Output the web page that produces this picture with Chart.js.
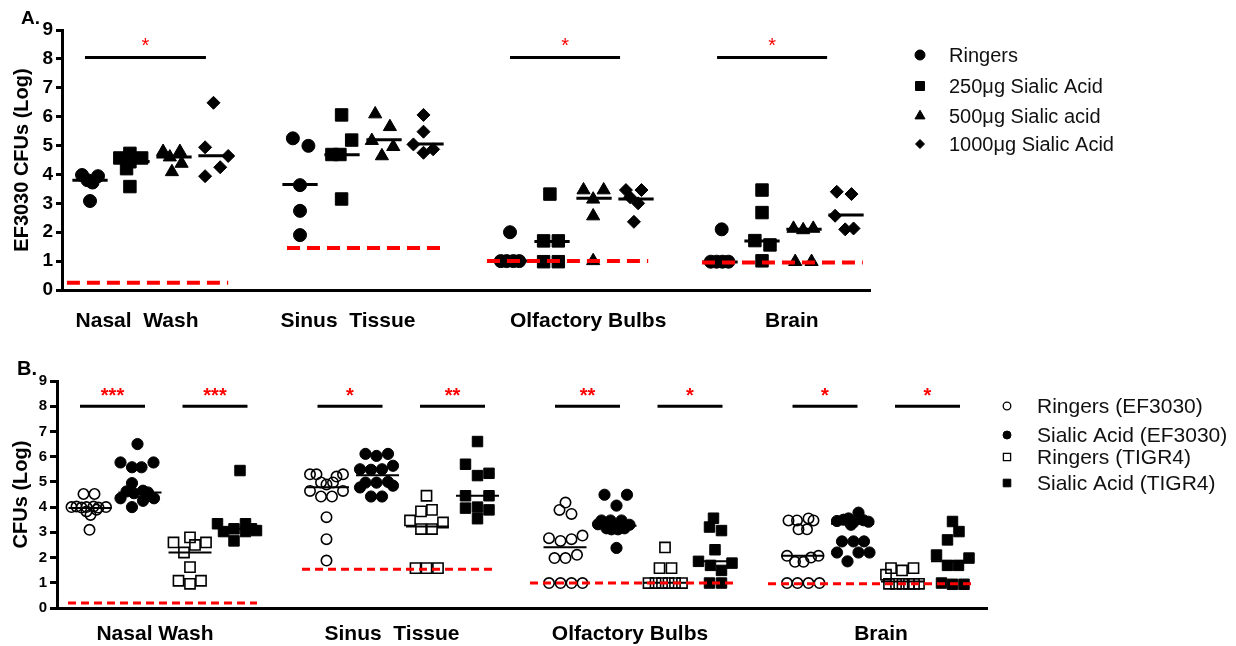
<!DOCTYPE html>
<html><head><meta charset="utf-8">
<script src="https://cdn.jsdelivr.net/npm/chart.js@4.4.1/dist/chart.umd.min.js"></script>
<style>
html,body{margin:0;padding:0;background:#fff;}
#wrap{position:relative;width:1236px;height:646px;overflow:hidden;}
canvas{position:absolute;left:0;}
#cA{top:0;} #cB{top:340px;}
</style></head><body>
<div id="wrap"><canvas id="cA" width="1236" height="340"></canvas><canvas id="cB" width="1236" height="306"></canvas></div>
<script>
// ---------------- Panel A data ----------------
const catsA = ["Nasal  Wash", "Sinus  Tissue", "Olfactory Bulbs", "Brain"];
const catTickA = [1.12, 6.14, 11.86, 16.71];
const seriesA = ["Ringers", "250\u03bcg Sialic Acid", "500\u03bcg Sialic acid", "1000\u03bcg Sialic Acid"];
const yTickValues = [0, 1, 2, 3, 4, 5, 6, 7, 8, 9];

const A_ringers = [[3.98, 3.94, 3.8, 3.72, 3.08], [5.25, 4.99, 3.63, 2.74, 1.9], [2.0, 1.0, 1.0, 1.0, 1.0], [2.1, 0.98, 0.98, 0.98, 0.98]];
const A_ringersJit = [[-0.19, 0.19, -0.06, 0.06, 0], [-0.17, 0.2, 0, 0, 0], [0, -0.22, -0.08, 0.08, 0.22], [0.04, -0.22, -0.08, 0.06, 0.2]];
const A_250 = [[4.73, 4.57, 4.57, 4.44, 4.2, 3.58], [6.06, 5.19, 4.69, 4.69, 3.15], [3.32, 1.7, 1.7, 0.98, 0.98], [3.46, 2.68, 1.71, 1.56, 1.01]];
const A_250Jit = [[-0.05, -0.29, 0.23, -0.05, -0.13, -0.05], [-0.01, 0.23, -0.24, -0.05, -0.01], [-0.05, -0.2, 0.15, -0.2, 0.15], [0, 0, -0.17, 0.19, 0]];
const A_500 = [[4.79, 4.79, 4.6, 4.38, 4.09], [6.09, 5.65, 5.17, 4.96, 4.64], [3.46, 3.46, 3.14, 2.56, 1.01], [2.13, 2.08, 2.13, 0.98, 0.98]];
const A_500Jit = [[-0.26, 0.14, -0.1, 0.18, -0.05], [-0.21, 0.14, -0.29, 0.22, -0.05], [-0.25, 0.23, -0.02, -0.02, -0.02], [-0.25, -0.02, 0.22, -0.21, 0.18]];
const A_1000 = [[6.48, 4.94, 4.64, 4.25, 3.94], [6.06, 5.48, 5.04, 4.75, 4.87], [3.46, 3.46, 3.21, 3.0, 2.36], [3.4, 3.32, 2.57, 2.1, 2.13]];
const A_1000Jit = [[-0.06, -0.26, 0.29, 0.1, -0.26], [-0.06, -0.06, -0.3, -0.06, 0.17], [-0.24, 0.13, -0.14, 0.05, -0.05], [-0.22, 0.13, -0.26, -0.02, 0.18]];
const A_medians = [[3.8, 4.45, 4.6, 4.65], [3.65, 4.68, 5.2, 5.05], [1.0, 1.68, 3.18, 3.15], [0.97, 1.7, 2.1, 2.6]];
const A_lod = [0.25, 1.45, 1.0, 0.95];
const A_lodFrom = [-0.55, 4.69, 9.45, 14.57];
const A_lodTo = [3.29, 8.4, 13.29, 18.4];
const A_sig = ["*", "", "*", "*"];
const A_sigFrom = [-0.12, null, 10.0, 14.93];
const A_sigTo = [2.76, null, 12.62, 17.55];
const A_sigY = 8.05;

// ---------------- Panel B data ----------------
const catsB = ["Nasal Wash", "Sinus  Tissue", "Olfactory Bulbs", "Brain"];
const catTickB = [1.3, 6.04, 10.8, 15.82];
const seriesB = ["Ringers (EF3030)", "Sialic Acid (EF3030)", "Ringers (TIGR4)", "Sialic Acid (TIGR4)"];

const B_ringersEF = [
  [4.52, 4.52, 4.0, 4.02, 3.98, 4.0, 4.02, 3.98, 4.0, 3.9, 3.83, 3.69, 3.1],
  [5.3, 5.3, 5.3, 5.21, 4.98, 4.9, 4.98, 4.64, 4.42, 4.42, 4.64, 3.6, 2.73, 1.88],
  [4.18, 3.89, 3.73, 2.77, 2.66, 2.73, 2.87, 1.98, 1.98, 2.11, 0.99, 0.99, 0.99, 0.99],
  [3.47, 3.47, 3.55, 3.47, 3.12, 3.12, 2.07, 1.83, 1.83, 2.0, 2.07, 0.99, 0.99, 0.99, 0.99]];
const B_ringersEFJit = [
  [-0.13, 0.09, -0.37, -0.27, -0.17, -0.07, 0.07, 0.17, 0.32, 0.13, -0.07, 0.01, -0.01],
  [-0.35, -0.22, 0.31, 0.18, -0.13, -0.02, 0.11, -0.35, -0.13, 0.09, 0.31, -0.02, -0.02, -0.02],
  [0.01, -0.11, 0.13, -0.32, -0.09, 0.13, 0.35, -0.21, 0.01, 0.24, -0.32, -0.09, 0.13, 0.35],
  [-0.28, -0.11, 0.12, 0.22, -0.08, 0.09, -0.31, -0.15, 0.02, 0.17, 0.32, -0.31, -0.1, 0.12, 0.34]];
const B_sialicEF = [
  [6.5, 5.77, 5.77, 5.58, 5.58, 4.95, 4.62, 4.55, 4.65, 4.58, 4.35, 4.25, 4.35, 4.0],
  [6.11, 6.03, 6.11, 5.5, 5.48, 5.5, 5.64, 4.97, 4.97, 5.0, 4.85, 4.78, 4.42, 4.42],
  [4.49, 4.49, 4.06, 3.47, 3.47, 3.47, 3.32, 3.3, 3.16, 3.12, 3.12, 3.16, 3.22, 2.38],
  [3.45, 3.5, 3.55, 3.4, 3.78, 3.48, 3.42, 3.3, 2.64, 2.64, 2.64, 2.2, 2.2, 2.2, 1.85]];
const B_sialicEFJit = [
  [-0.05, -0.39, 0.27, -0.16, 0.03, -0.16, -0.27, -0.12, 0.06, 0.16, -0.39, 0.06, 0.28, -0.16],
  [-0.24, -0.02, 0.21, -0.35, -0.13, 0.09, 0.31, -0.24, -0.02, 0.21, 0.31, -0.35, -0.13, 0.09],
  [-0.21, 0.24, 0.03, -0.27, -0.09, 0.13, -0.34, 0.29, -0.17, -0.07, 0.06, 0.19, 0, 0.03],
  [-0.31, -0.18, -0.08, 0.02, 0.12, 0.22, 0.32, -0.03, -0.21, 0.02, 0.23, -0.31, 0.12, 0.34, -0.1]];
const B_ringersT4 = [
  [2.6, 2.6, 2.8, 2.5, 2.2, 1.62, 1.08, 1.08, 0.96],
  [4.45, 3.83, 3.89, 3.47, 3.39, 3.13, 3.13, 1.58, 1.58, 1.58],
  [2.4, 1.58, 1.58, 0.99, 0.99, 0.99, 0.99, 0.99, 0.99],
  [1.58, 1.49, 1.58, 1.32, 0.96, 0.96, 0.96, 0.96, 0.96, 0.96]];
const B_ringersT4Jit = [
  [-0.33, 0.32, 0, 0.1, -0.12, 0, -0.23, 0.22, 0],
  [-0.02, -0.13, 0.09, -0.35, 0.31, -0.13, 0.09, -0.24, -0.02, 0.21],
  [0, -0.11, 0.13, -0.33, -0.19, -0.06, 0.07, 0.2, 0.34],
  [-0.23, -0.01, 0.22, -0.33, -0.27, -0.13, 0, 0.13, 0.23, 0.33]];
const B_sialicT4 = [
  [5.45, 3.34, 3.03, 3.14, 3.34, 3.03, 3.14, 3.07, 2.66],
  [6.6, 5.7, 5.25, 5.34, 4.45, 4.45, 3.96, 4.0, 3.89, 3.54],
  [3.56, 3.21, 3.07, 2.31, 1.85, 1.78, 1.69, 1.49, 0.99, 0.99],
  [3.43, 3.03, 2.7, 2.1, 1.98, 1.69, 1.69, 0.99, 0.94, 0.94]];
const B_sialicT4Jit = [
  [0, -0.45, -0.33, -0.12, 0.11, 0.11, 0.23, 0.33, -0.12],
  [0, -0.24, 0, 0.23, -0.24, 0.23, -0.24, 0, 0.23, 0],
  [-0.03, -0.11, 0.13, 0, -0.33, 0.34, -0.09, 0.13, -0.11, 0.13],
  [0, 0.13, -0.1, -0.32, 0.33, -0.1, 0.12, -0.22, 0, 0.23]];
const B_medians = [[3.96, 4.58, 2.2, 3.13], [4.79, 5.26, 3.23, 4.45], [2.41, 3.26, 1.0, 1.85], [2.07, 3.34, 1.05, 1.85]];
const B_lod = [0.2, 1.54, 0.99, 0.96];
const B_lodFrom = [-0.44, 4.24, 8.8, 13.56];
const B_lodTo = [3.34, 8.14, 12.94, 17.7];
const B_sig = ["***", "***", "*", "**", "**", "*", "*", "*"];
const B_sigFrom = [-0.2, 1.85, 4.55, 6.6, 9.3, 11.35, 14.05, 16.1];
const B_sigTo = [1.1, 3.15, 5.85, 7.9, 10.6, 12.65, 15.35, 17.4];
const B_sigY = 8.0;

// ---------------- helpers ----------------
Chart.defaults.font.family = '"Liberation Sans", Arial, Helvetica, sans-serif';
Chart.defaults.color = '#000';
const RED = 'rgb(255,0,0)';

function points(groups, jit, s, step) {
  const out = [];
  groups.forEach((vals, g) => vals.forEach((v, i) => out.push({x: g * step + s + jit[g][i], y: v})));
  return out;
}
function medianSegs(meds, step, half) {
  const out = [];
  meds.forEach((row, g) => row.forEach((m, s) => {
    const c = g * step + s;
    out.push({x: c - half, y: m}, {x: c + half, y: m}, {x: c + half, y: null});
  }));
  return out;
}
function segs(from, to, ys) {
  const out = [];
  from.forEach((f, i) => {
    if (f === null) return;
    const yy = Array.isArray(ys) ? ys[i] : ys;
    out.push({x: f, y: yy}, {x: to[i], y: yy}, {x: to[i], y: null});
  });
  return out;
}
function drawMarker(ctx, style, x, y, r, filled, lw) {
  ctx.beginPath();
  if (style === 'circle') ctx.arc(x, y, r, 0, Math.PI * 2);
  else if (style === 'rect') ctx.rect(x - r, y - r, 2 * r, 2 * r);
  else if (style === 'triangle') { ctx.moveTo(x, y - r); ctx.lineTo(x + r * 0.866, y + r / 2); ctx.lineTo(x - r * 0.866, y + r / 2); ctx.closePath(); }
  else if (style === 'rectRot') { ctx.moveTo(x - r, y); ctx.lineTo(x, y - r); ctx.lineTo(x + r, y); ctx.lineTo(x, y + r); ctx.closePath(); }
  ctx.fillStyle = '#000'; ctx.strokeStyle = '#000'; ctx.lineWidth = lw;
  if (filled) ctx.fill();
  ctx.stroke();
}

const annot = {
  id: 'annot',
  afterDatasetsDraw(chart, args, o) {
    const {ctx} = chart;
    const xs = chart.scales.x, ys = chart.scales.y;
    ctx.save();
    // significance stars
    ctx.fillStyle = RED;
    ctx.font = o.starFont;
    ctx.textAlign = 'center';
    ctx.textBaseline = 'alphabetic';
    o.stars.forEach((t, i) => {
      if (!t) return;
      const cx = xs.getPixelForValue((o.sigFrom[i] + o.sigTo[i]) / 2);
      ctx.fillText(t, cx, ys.getPixelForValue(o.sigY) - o.starLift);
    });
    // panel letter
    ctx.fillStyle = '#000';
    ctx.font = o.panelFont;
    ctx.textAlign = 'left';
    ctx.fillText(o.panel, o.panelX, o.panelY);
    // legend
    ctx.font = o.legFont;
    ctx.textBaseline = 'middle';
    o.legend.forEach((it, i) => {
      const ds = chart.data.datasets[it.ds];
      drawMarker(ctx, ds.pointStyle, o.legX, o.legY[i], it.r, it.filled, it.lw);
      ctx.fillStyle = '#111';
      ctx.fillText(ds.label, o.legTextX, o.legY[i] + 1);
    });
    ctx.restore();
  }
};

function yAxis(width, titleText, tickFont, titlePad, tickLen) {
  return {
    type: 'linear', min: 0, max: 9,
    afterFit(s) { s.width = width; },
    afterBuildTicks(s) { s.ticks = yTickValues.map(v => ({value: v})); },
    ticks: {font: {size: tickFont, weight: 'bold'}, color: '#000', padding: 3, callback: v => String(v)},
    grid: {display: true, drawOnChartArea: false, drawTicks: true, tickLength: tickLen, color: '#000', lineWidth: 3},
    border: {display: true, width: 3, color: '#000'},
    title: {display: true, text: titleText, font: {size: 20, weight: 'bold'}, color: '#000', padding: {top: titlePad, bottom: 0}}
  };
}
function xAxis(min, max, height, ticksAt, labels, pad) {
  return {
    type: 'linear', min: min, max: max,
    afterFit(s) { s.height = height; },
    afterBuildTicks(s) { s.ticks = ticksAt.map(v => ({value: v})); },
    ticks: {autoSkip: false, maxRotation: 0, font: {size: 21, weight: 'bold'}, color: '#000', padding: pad,
            callback: (v, i) => labels[i]},
    grid: {display: false, drawTicks: false},
    border: {display: true, width: 3, color: '#000'}
  };
}

// ---------------- Panel A ----------------
const stepA = 5;
const stylesA = ['circle', 'rect', 'triangle', 'rectRot'];
const radiiA = [6.5, 8.8, 7.6, 6.5];
const valsA = [A_ringers, A_250, A_500, A_1000];
const jitsA = [A_ringersJit, A_250Jit, A_500Jit, A_1000Jit];
const dsA = [
  {label: 'lod', data: segs(A_lodFrom, A_lodTo, A_lod), showLine: true, borderColor: RED, borderWidth: 4, borderDash: [13, 7], pointRadius: 0, order: 0, spanGaps: false},
  {label: 'median', data: medianSegs(A_medians, stepA, 0.42), showLine: true, borderColor: '#000', borderWidth: 3, pointRadius: 0, order: 1, spanGaps: false},
  {label: 'sig', data: segs(A_sigFrom, A_sigTo, A_sigY), showLine: true, borderColor: '#000', borderWidth: 3, pointRadius: 0, order: 1, spanGaps: false}
];
seriesA.forEach((name, s) => dsA.push({
  label: name, data: points(valsA[s], jitsA[s], s, stepA), pointStyle: stylesA[s], pointRadius: radiiA[s],
  backgroundColor: '#000', borderColor: '#000', borderWidth: 1, showLine: false, order: 2 + s
}));

new Chart(document.getElementById('cA'), {
  type: 'scatter',
  data: {datasets: dsA},
  options: {
    responsive: false, animation: false, events: [],
    layout: {padding: {left: 0, top: 30, right: 366, bottom: 0}},
    plugins: {
      legend: {display: false}, tooltip: {enabled: false},
      annot: {
        stars: A_sig, sigFrom: A_sigFrom, sigTo: A_sigTo, sigY: A_sigY, starFont: '20px "Liberation Sans", Arial', starLift: 5.5,
        panel: 'A.', panelFont: 'bold 19px "Liberation Sans", Arial', panelX: 21, panelY: 24,
        legFont: '20px "Liberation Sans", Arial', legX: 920, legTextX: 949, legY: [55, 86, 116, 144],
        legend: [{ds: 3, r: 5, filled: true, lw: 1}, {ds: 4, r: 4.5, filled: true, lw: 1}, {ds: 5, r: 5.8, filled: true, lw: 1}, {ds: 6, r: 4.5, filled: true, lw: 1}]
      }
    },
    scales: {
      x: xAxis(-0.667, 18.571, 50, catTickA, catsA, 19),
      y: yAxis(62, 'EF3030 CFUs (Log)', 19, 10, 6)
    }
  },
  plugins: [annot]
});

// ---------------- Panel B ----------------
const stepB = 4.75;
const stylesB = ['circle', 'circle', 'rect', 'rect'];
const filledB = [false, true, false, true];
const radiiB = [5.2, 5.6, 7.2, 7.4];
const valsB = [B_ringersEF, B_sialicEF, B_ringersT4, B_sialicT4];
const jitsB = [B_ringersEFJit, B_sialicEFJit, B_ringersT4Jit, B_sialicT4Jit];
const dsB = [
  {label: 'lod', data: segs(B_lodFrom, B_lodTo, B_lod), showLine: true, borderColor: RED, borderWidth: 3, borderDash: [8, 5], pointRadius: 0, order: 0, spanGaps: false},
  {label: 'median', data: medianSegs(B_medians, stepB, 0.43), showLine: true, borderColor: '#000', borderWidth: 2, pointRadius: 0, order: 1, spanGaps: false},
  {label: 'sig', data: segs(B_sigFrom, B_sigTo, B_sigY), showLine: true, borderColor: '#000', borderWidth: 3, pointRadius: 0, order: 1, spanGaps: false}
];
seriesB.forEach((name, s) => dsB.push({
  label: name, data: points(valsB[s], jitsB[s], s, stepB), pointStyle: stylesB[s], pointRadius: radiiB[s],
  backgroundColor: filledB[s] ? '#000' : 'rgba(255,255,255,0)', borderColor: '#000', borderWidth: filledB[s] ? 1 : 1.6,
  showLine: false, order: 2 + s
}));

new Chart(document.getElementById('cB'), {
  type: 'scatter',
  data: {datasets: dsB},
  options: {
    responsive: false, animation: false, events: [],
    layout: {padding: {left: 0, top: 41, right: 249, bottom: 0}},
    plugins: {
      legend: {display: false}, tooltip: {enabled: false},
      annot: {
        stars: B_sig, sigFrom: B_sigFrom, sigTo: B_sigTo, sigY: B_sigY, starFont: 'bold 20px "Liberation Sans", Arial', starLift: 4,
        panel: 'B.', panelFont: 'bold 20px "Liberation Sans", Arial', panelX: 17, panelY: 35,
        legFont: '21px "Liberation Sans", Arial', legX: 1007, legTextX: 1037, legY: [66, 95, 117, 143],
        legend: [{ds: 3, r: 3.8, filled: false, lw: 1.3}, {ds: 4, r: 4, filled: true, lw: 1}, {ds: 5, r: 3.6, filled: false, lw: 1.3}, {ds: 6, r: 3.8, filled: true, lw: 1}]
      }
    },
    scales: {
      x: xAxis(-0.66, 17.94, 38, catTickB, catsB, 14),
      y: yAxis(57, 'CFUs (Log)', 15, 9, 7)
    }
  },
  plugins: [annot]
});
</script>
</body></html>
